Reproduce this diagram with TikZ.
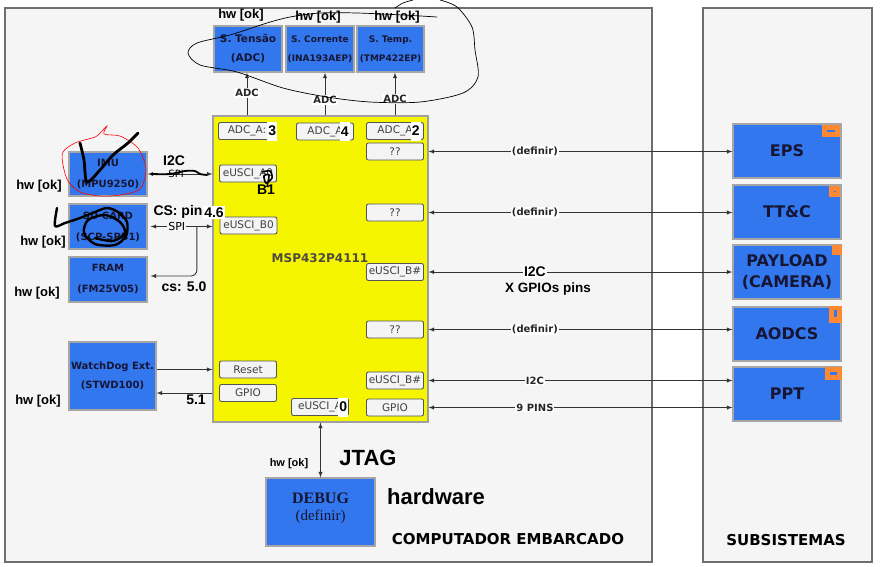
\documentclass[tikz,border=0pt]{standalone}
\usepackage{fontspec}
\setmainfont{DejaVu Sans}
\newfontfamily\arialfont{Liberation Sans}
\newfontfamily\timesfont{Liberation Serif}
\usetikzlibrary{arrows,calc,positioning}
\definecolor{boxblue}{HTML}{3377EE}
\definecolor{framegray}{HTML}{F5F5F5}
\definecolor{frameline}{HTML}{6E6E6E}
\definecolor{mcuyellow}{HTML}{F5F500}
\definecolor{portfill}{HTML}{F4F4F4}
\definecolor{portline}{HTML}{555555}
\definecolor{markorange}{HTML}{FF8833}
\definecolor{textnavy}{HTML}{161634}
\tikzset{%
  framebox/.style  = {shape=rectangle, draw=frameline, line width=1.2pt, fill=framegray},%
  blockbox/.style  = {shape=rectangle, draw=gray!70, line width=1.3pt, fill=boxblue,%
                      align=center, text=textnavy, font=\bfseries\fontsize{10}{20}\selectfont},%
  sensorbox/.style = {blockbox, minimum width=68pt, minimum height=46pt, font=\bfseries\fontsize{9}{19}\selectfont},%
  leftbox/.style   = {blockbox, minimum width=78pt, minimum height=45pt, font=\bfseries\fontsize{10}{21}\selectfont},%
  subbox/.style    = {blockbox, minimum width=108pt, minimum height=54pt, font=\bfseries\fontsize{16}{21}\selectfont},%
  mcubox/.style    = {shape=rectangle, draw=gray!75, line width=1.2pt, fill=mcuyellow},%
  portbox/.style   = {shape=rectangle, rounded corners=2pt, draw=portline, line width=0.9pt, fill=portfill,%
                      minimum width=57pt, minimum height=17pt, font=\fontsize{10.5}{12}\selectfont, text=black!75},%
  digitbox/.style  = {fill=white, inner sep=1.2pt, minimum height=19pt, font=\arialfont\bfseries\fontsize{14}{14}\selectfont},%
  hwtag/.style     = {font=\arialfont\bfseries\fontsize{13}{13}\selectfont},%
  note/.style      = {font=\arialfont\bfseries\fontsize{14}{14}\selectfont},%
  bignote/.style   = {font=\arialfont\bfseries\fontsize{22}{22}\selectfont},%
  wire/.style      = {draw=black!80, line width=0.9pt},%
  wirelabel/.style = {fill=white, inner sep=1pt, font=\bfseries\fontsize{10}{10}\selectfont, text=black!85},%
  flagmark/.style  = {fill=markorange},%
  flagdash/.style  = {fill=boxblue},%
  scribble/.style  = {line width=2.8pt, line cap=round, line join=round}%
}

\begin{document}
\begin{tikzpicture}[x=1pt, y=-1pt, >=latex, every node/.style={inner sep=0pt}]
  \useasboundingbox (0,0) rectangle (883,566);

  % frames
  \node[framebox, minimum width=647pt, minimum height=554pt] (obc) at (328.5,285) {};
  \node[framebox, minimum width=169pt, minimum height=554pt] (subs) at (787.5,285) {};
  \node[font=\bfseries\fontsize{15}{15}\selectfont] (obctitle) at (508,539) {COMPUTADOR EMBARCADO};
  \node[font=\bfseries\fontsize{15}{15}\selectfont] (substitle) at (786,540) {SUBSISTEMAS};

  % microcontroller and its ports
  \node[mcubox, minimum width=215pt, minimum height=306pt] (mcu) at (320.5,269) {};
  \node[font=\bfseries\fontsize{12}{12}\selectfont, text=black!80!yellow] (mcutitle) at (320,258) {MSP432P4111};
  \node[portbox] (adc3) at (247,131) {ADC\_A:\hspace{7pt}};
  \node[portbox] (adc4) at (325,131.5) {ADC\_A\hspace{9pt}};
  \node[portbox] (adc2) at (395,131) {ADC\_A\hspace{9pt}};
  \node[portbox] (q1) at (395,151.5) {??};
  \node[portbox] (eA0) at (248,173.5) {eUSCI\_A0};
  \node[portbox] (eB0) at (248.5,225.5) {eUSCI\_B0};
  \node[portbox] (q2) at (395,212.5) {??};
  \node[portbox] (eBa) at (395,272) {eUSCI\_B\#};
  \node[portbox] (q3) at (395,329.5) {??};
  \node[portbox] (eBb) at (395,380.5) {eUSCI\_B\#};
  \node[portbox] (gpioR) at (395,407.5) {GPIO};
  \node[portbox] (reset) at (248,369.5) {Reset};
  \node[portbox] (gpioL) at (248,393) {GPIO};
  \node[portbox] (eA0b) at (320,407) {eUSCI\_A\hspace{11pt}};
  \node[digitbox, anchor=east] (n3) at ($(adc3.east)+(1.5,0)$) {3};
  \node[digitbox, anchor=east] (n4) at ($(adc4.east)+(-4,0)$) {4};
  \node[digitbox, anchor=east] (n2) at ($(adc2.east)+(-3,0)$) {2};
  \node[digitbox, anchor=east] (n0) at ($(eA0b.east)+(-0.5,0)$) {0};
  \node[note] (b1) at (266,190) {B1};

  % sensors
  \node[sensorbox, font=\bfseries\fontsize{10.5}{19}\selectfont] (stens) at (248,49) {S. Tensão\\(ADC)};
  \node[sensorbox] (scorr) at (320,49) {S. Corrente\\(INA193AEP)};
  \node[sensorbox, minimum width=67pt] (stemp) at (390.5,49) {S. Temp.\\(TMP422EP)};
  \node[hwtag] (hwstens) at (241,15) {hw [ok]};
  \node[hwtag] (hwscorr) at (318,17) {hw [ok]};
  \node[hwtag] (hwstemp) at (397,17) {hw [ok]};
  \draw[wire, ->] (mcu.north -| adc3) -- node[wirelabel, pos=0.52] {ADC} (stens.south -| adc3);
  \draw[wire, ->] (mcu.north -| adc4) -- node[wirelabel, pos=0.36] {ADC} (scorr.south -| adc4);
  \draw[wire, ->] (mcu.north -| adc2) -- node[wirelabel, pos=0.39] {ADC} (stemp.south -| adc2);

  % left side parts
  \node[leftbox, minimum height=44pt] (imu) at (108,174) {IMU\\(MPU9250)};
  \node[leftbox] (sd) at (108,226.5) {SD CARD\\(SCP-SPB1)};
  \node[leftbox] (fram) at (108,279.5) {FRAM\\(FM25V05)};
  \node[leftbox, minimum width=87pt, minimum height=68pt, font=\bfseries\fontsize{10}{19}\selectfont] (wdog) at (112.5,376) {WatchDog Ext.\\(STWD100)};
  \node[hwtag] (hwimu) at (39,186) {hw [ok]};
  \node[hwtag] (hwsd) at (43,242) {hw [ok]};
  \node[hwtag] (hwfram) at (37,293) {hw [ok]};
  \node[hwtag] (hwwdog) at (38,401) {hw [ok]};

  \draw[wire, <->] (imu.east) -- node[pos=0.44, font=\fontsize{10}{10}\selectfont] (spiimu) {SPI} (mcu.west |- imu.east);
  \node[note] (i2cimu) at (174,161) {I2C};
  \draw[wire, <->, shorten <=3pt] (sd.east) -- node[pos=0.45, fill=framegray, inner sep=1pt, font=\fontsize{11}{11}\selectfont] (spisd) {SPI} (mcu.west |- sd.east);
  \coordinate (branch) at ($(sd.east)!0.76!(mcu.west |- sd.east)$);
  \draw[wire, ->, rounded corners=6pt, shorten >=3pt] (branch) |- ($(fram.east)+(0,-3.5)$);
  \node[note] (cspin) at (178,212) {CS: pin};
  \node[digitbox, minimum height=12pt] (pin46) at (214,212.5) {4.6};
  \node[note] (cs50) at (184,287) {cs: 5.0};

  \draw[wire, ->] (wdog.east |- reset) -- (mcu.west |- reset);
  \draw[wire, ->] (mcu.west |- gpioL) -- (wdog.east |- gpioL);
  \node[note] (pin51) at (196,400) {5.1};

  % debug
  \node[blockbox, minimum width=109pt, minimum height=68pt, font=\timesfont\fontsize{16}{17}\selectfont] (debug) at (320.5,512) {\textbf{DEBUG}\\{\fontsize{15}{15}\selectfont(definir)}\\[-6pt]\mbox{}};
  \draw[wire, <->] (debug.north) -- (mcu.south -| debug.north);
  \node[hwtag, font=\arialfont\bfseries\fontsize{11}{11}\selectfont] (hwdebug) at (289,464) {hw [ok]};
  \node[bignote] (jtag) at (368,458) {JTAG};
  \node[bignote] (hwnote) at (436,497) {hardware};

  % subsystems
  \node[subbox] (eps) at (787,151) {EPS};
  \node[subbox] (ttc) at (787,212) {TT\&C};
  \node[subbox] (payload) at (787,272) {PAYLOAD\\(CAMERA)};
  \node[subbox] (aodcs) at (787,334) {AODCS};
  \node[subbox] (ppt) at (787,394) {PPT};
  \fill[flagmark] ($(eps.north east)+(-20,1.5)$) rectangle ($(eps.north east)+(-2,13.5)$);
  \fill[flagdash] ($(eps.north east)+(-15,6.5)$) rectangle ($(eps.north east)+(-7,8.5)$);
  \fill[flagmark] ($(ttc.north east)+(-13,2)$) rectangle ($(ttc.north east)+(-1.5,13)$);
  \fill[flagdash] ($(ttc.north east)+(-8,7)$) rectangle ($(ttc.north east)+(-6,8)$);
  \fill[flagmark] ($(payload.north east)+(-10,1)$) rectangle ($(payload.north east)+(0,11)$);
  \fill[flagmark] ($(aodcs.north east)+(-13,0)$) rectangle ($(aodcs.north east)+(0,17)$);
  \fill[flagdash] ($(aodcs.north east)+(-8,4)$) rectangle ($(aodcs.north east)+(-5,11)$);
  \fill[flagmark] ($(ppt.north east)+(-17,1)$) rectangle ($(ppt.north east)+(0,14)$);
  \fill[flagdash] ($(ppt.north east)+(-12,6)$) rectangle ($(ppt.north east)+(-5,8.5)$);

  \draw[wire, <->] (mcu.east |- q1) -- node[wirelabel, pos=0.35] {(definir)} (eps.west |- q1);
  \draw[wire, <->] (mcu.east |- q2) -- node[wirelabel, pos=0.35] {(definir)} (ttc.west |- q2);
  \draw[wire, <->] (mcu.east |- eBa) -- node[note, fill=white, inner sep=1pt, pos=0.35] (i2cpay) {I2C} (payload.west |- eBa);
  \node[note, font=\arialfont\bfseries\fontsize{13.5}{13.5}\selectfont] (gpiopins) at (548,289) {X GPIOs pins};
  \draw[wire, <->] (mcu.east |- q3) -- node[wirelabel, pos=0.35] {(definir)} (aodcs.west |- q3);
  \draw[wire, <->] (mcu.east |- eBb) -- node[wirelabel, pos=0.35] {I2C} (ppt.west |- eBb);
  \draw[wire, <->] (mcu.east |- gpioR) -- node[wirelabel, pos=0.35] {9 PINS} (ppt.west |- gpioR);

  % hand drawn marks
  \draw[thin, black, line width=0.7pt] plot[smooth] coordinates {(437,17) (403,15) (357,13) (320,13) (290,17) (267,23) (230,35) (197,43) (188,53) (200,65) (237,72) (283,88) (327,97) (370,102) (420,102) (463,93) (478,77) (475,50) (472,27) (457,7) (440,0)};
  \draw[black, line width=0.7pt] plot[smooth] coordinates {(395,8) (403,3) (413,0)};
  \draw[red, line width=0.6pt] plot[smooth cycle] coordinates {(63,152) (75,143) (95,137) (101,132) (107,126) (104,134) (120,136) (135,145) (141,153) (146,170) (140,189) (120,195) (100,196) (80,192) (68,181) (63,165)};
  \draw[scribble] plot[smooth] coordinates {(80,143) (84,160) (87,182) (100,170) (113,155) (128,143) (138,133)};
  \draw[scribble, line width=2.4pt] plot[smooth] coordinates {(57,208) (55,226) (65,223) (80,218) (95,212) (107,208) (118,212) (127,222) (126,236) (115,245) (95,244) (84,233) (88,220) (105,215) (120,222) (125,233) (113,241) (95,238)};
  \draw[black, line width=1.8pt] plot[smooth] coordinates {(151,174) (170,174) (185,171) (195,171) (200,174) (207,175)};
  \draw[black, line width=1.6pt] plot[smooth] coordinates {(262,172) (270,171) (272,178) (266,183) (264,176) (269,175) (267,187)};
\end{tikzpicture}
\end{document}
